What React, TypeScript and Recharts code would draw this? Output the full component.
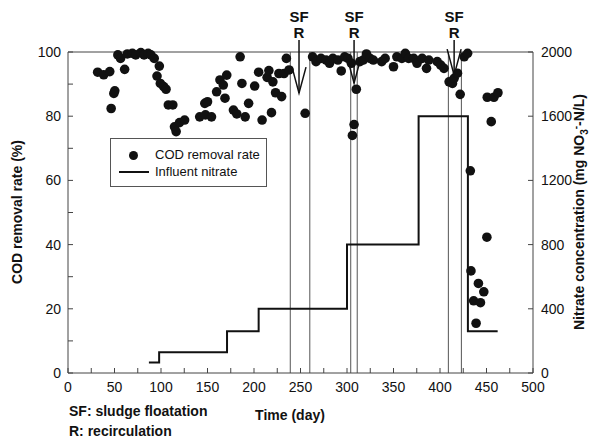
import React from "react";
import {
  ComposedChart,
  Scatter,
  Line,
  XAxis,
  YAxis,
  ReferenceLine,
  ReferenceDot,
} from "recharts";

// COD removal rate (%) by day
const codDays = [
  31.9, 38.4, 44.9, 46.4, 49.3, 50.3, 53.6, 56.5, 60.9, 63.8, 69.2, 72.8, 78.3, 81.8, 86.2, 89.1,
  92.7, 95.7, 98.2, 99.3, 102.9, 105.4, 107.9, 112.7, 114.5, 116.3, 119.9, 125.4, 141.6, 147.1,
  147.8, 150.0, 154.3, 159.8, 163.4, 167.0, 168.8, 170.7, 177.9, 181.5, 185.1, 187.0, 190.5,
  194.2, 200.7, 205.0, 208.7, 214.1, 216.0, 218.8, 220.3, 223.2, 226.8, 229.7, 232.3, 234.8,
  237.7, 255.0, 263.0, 266.7, 272.0, 277.5, 281.2, 284.8, 290.2, 293.8, 297.5, 301.0, 304.7,
  305.8, 307.6, 310.0, 313.8, 317.4, 320.9, 324.7, 328.3, 337.3, 341.0, 350.0, 353.6, 359.0,
  362.7, 366.3, 371.7, 375.3, 380.8, 385.5, 388.0, 397.0, 400.8, 404.3, 409.8, 413.4, 415.2,
  418.8, 421.7, 426.0, 429.7, 432.6, 433.3, 436.2, 438.8, 441.3, 443.5, 447.1, 450.4, 450.8,
  455.1, 458.0, 462.3,
];
const codRates = [
  93.7, 92.9, 93.9, 82.4, 87.1, 87.9, 99.1, 98.0, 94.6, 99.4, 99.6, 99.1, 99.8, 99.1, 99.6, 99.1,
  98.0, 92.5, 95.6, 90.2, 89.2, 88.4, 83.5, 83.5, 76.7, 75.2, 78.0, 78.8, 79.8, 84.0,
  80.4, 84.5, 79.8, 87.6, 91.3, 89.7, 85.6, 92.8, 81.9, 80.7, 98.5, 90.2, 79.8,
  84.0, 89.4, 93.7, 78.8, 92.1, 94.2, 81.1, 90.7, 87.3, 93.3, 86.1, 93.3, 98.0,
  94.4, 80.9, 98.5, 97.0, 98.0, 97.5, 96.5, 98.0, 97.5, 94.1, 98.5, 98.0, 96.5,
  74.0, 77.4, 88.4, 97.0, 97.5, 99.4, 98.0, 97.5, 97.0, 98.0, 95.4, 98.5, 98.0,
  99.6, 98.0, 98.0, 96.5, 98.0, 94.9, 97.5, 97.0, 95.9, 94.9, 90.7, 90.2, 91.8,
  93.4, 86.8, 98.5, 99.6, 63.0, 31.8, 22.5, 15.5, 27.9, 21.9, 25.3, 42.3, 85.9,
  78.3, 85.9, 87.3,
];

// influent nitrate (mg NO3-N/L), value holds from each day to the next
const nitrateDays = [87, 98, 171, 205, 300, 377, 430, 462];
const nitrateLevels = [65, 130, 260, 400, 800, 1600, 260, 260];

// sludge floatation / recirculation events
const eventDays = [239, 260, 304, 311, 409, 423];
const arrowDays = [248.4, 307.6, 415.2];
const arrowTips = [87.2, 90.3, 92.8];

const xTicks = [0, 25, 50, 75, 100, 125, 150, 175, 200, 225, 250, 275, 300, 325, 350, 375, 400, 425, 450, 475, 500];
const leftTicks = [0, 10, 20, 30, 40, 50, 60, 70, 80, 90, 100];
const rightTicks = [0, 400, 800, 1200, 1600, 2000];

const codData = codDays.map((d, i) => ({ day: d, rate: codRates[i] }));
const nitrateData = nitrateDays.map((d, i) => ({ day: d, nitrate: nitrateLevels[i] }));

const FONT = "'Liberation Sans', Arial, sans-serif";
const AXIS = "#444";
const INK = "#111";

function BottomTick({ x, y, payload }: any) {
  const major = payload.value % 50 === 0;
  return (
    <g>
      <line x1={x} x2={x} y1={y} y2={y - 5} stroke={AXIS} />
      {major && (
        <text x={x} y={y + 19} textAnchor="middle" fontSize={14} fill={INK} fontFamily={FONT}>
          {payload.value}
        </text>
      )}
    </g>
  );
}

function LeftTick({ x, y, payload }: any) {
  const major = payload.value % 20 === 0;
  return (
    <g>
      <line x1={x} x2={x + 5} y1={y} y2={y} stroke={AXIS} />
      {major && (
        <text x={x - 7} y={y + 5} textAnchor="end" fontSize={14} fill={INK} fontFamily={FONT}>
          {payload.value}
        </text>
      )}
    </g>
  );
}

function RightTick({ x, y, payload }: any) {
  return (
    <g>
      <line x1={x} x2={x - 5} y1={y} y2={y} stroke={AXIS} />
      <text x={x + 8} y={y + 5} textAnchor="start" fontSize={14} fill={INK} fontFamily={FONT}>
        {payload.value}
      </text>
    </g>
  );
}

function LeftTitle() {
  return (
    <text x={22} y={212} transform="rotate(-90 22 212)" textAnchor="middle" fontSize={14}
      fontWeight="bold" fill={INK} fontFamily={FONT}>
      COD removal rate (%)
    </text>
  );
}

function RightTitle() {
  return (
    <text x={584} y={212} transform="rotate(-90 584 212)" textAnchor="middle" fontSize={14}
      fontWeight="bold" fill={INK} fontFamily={FONT}>
      Nitrate concentration (mg NO
      <tspan fontSize={10} dy={4}>3</tspan>
      <tspan fontSize={10} dy={-9}>-</tspan>
      <tspan dy={5}>-N/L)</tspan>
    </text>
  );
}

function BottomTexts() {
  return (
    <g fontFamily={FONT} fontWeight="bold" fontSize={14} fill={INK}>
      <text x={290} y={420} textAnchor="middle">Time (day)</text>
      <text x={69} y={416}>SF: sludge floatation</text>
      <text x={69} y={436}>R: recirculation</text>
    </g>
  );
}

function EventArrow({ cx, cy }: any) {
  return (
    <g>
      <text x={cx} y={22} textAnchor="middle" fontSize={15} fontWeight="bold" fill={INK} fontFamily={FONT}>SF</text>
      <text x={cx} y={38} textAnchor="middle" fontSize={15} fontWeight="bold" fill={INK} fontFamily={FONT}>R</text>
      <line x1={cx} x2={cx} y1={40} y2={cy} stroke={INK} strokeWidth={1.5} />
      <polyline points={`${cx - 7},${cy - 26} ${cx},${cy} ${cx + 7},${cy - 26}`} fill="none" stroke={INK} strokeWidth={1.5} />
    </g>
  );
}

export default function App() {
  return (
    <div style={{ position: "absolute", left: 0, top: 0, width: 595, height: 439, background: "#fff" }}>
      <ComposedChart width={595} height={439} margin={{ top: 52, right: 0, bottom: 0, left: 0 }}>
        <XAxis
          dataKey="day"
          type="number"
          domain={[0, 500]}
          ticks={xTicks}
          interval={0}
          height={66}
          tickSize={0}
          tickMargin={0}
          tickLine={false}
          axisLine={{ stroke: AXIS }}
          tick={<BottomTick />}
          label={<BottomTexts />}
          allowDataOverflow
        />
        <YAxis
          yAxisId="left"
          type="number"
          domain={[0, 100]}
          ticks={leftTicks}
          interval={0}
          width={68}
          tickSize={0}
          tickMargin={0}
          tickLine={false}
          axisLine={{ stroke: AXIS }}
          tick={<LeftTick />}
          label={<LeftTitle />}
        />
        <YAxis
          yAxisId="right"
          orientation="right"
          type="number"
          domain={[0, 2000]}
          ticks={rightTicks}
          interval={0}
          width={62}
          tickSize={0}
          tickMargin={0}
          tickLine={false}
          axisLine={{ stroke: AXIS }}
          tick={<RightTick />}
          label={<RightTitle />}
        />
        <ReferenceLine yAxisId="left" y={100} stroke={AXIS} />
        {eventDays.map((d) => (
          <ReferenceLine key={d} yAxisId="left" x={d} stroke="#555" strokeWidth={1} />
        ))}
        <Line
          yAxisId="right"
          data={nitrateData}
          dataKey="nitrate"
          type="stepAfter"
          stroke={INK}
          strokeWidth={2}
          dot={false}
          isAnimationActive={false}
        />
        <Scatter
          yAxisId="left"
          data={codData}
          dataKey="rate"
          fill={INK}
          shape={(p: any) => <circle cx={p.cx} cy={p.cy} r={4.8} fill={INK} />}
          isAnimationActive={false}
        />
        {arrowDays.map((d, i) => (
          <ReferenceDot key={d} yAxisId="left" x={d} y={arrowTips[i]} shape={(p: any) => <EventArrow {...p} />} />
        ))}
      </ComposedChart>
      <div
        style={{
          position: "absolute",
          left: 110,
          top: 138,
          width: 157,
          height: 49,
          border: "1px solid #555",
          background: "#fff",
          fontFamily: FONT,
          fontSize: 13,
          color: INK,
          boxSizing: "border-box",
          whiteSpace: "nowrap",
        }}
      >
        <div style={{ position: "absolute", left: 18, top: 12, width: 9, height: 9, borderRadius: "50%", background: INK }} />
        <div style={{ position: "absolute", left: 44, top: 8, lineHeight: "15px" }}>COD removal rate</div>
        <div style={{ position: "absolute", left: 8, top: 32, width: 30, height: 2, background: INK }} />
        <div style={{ position: "absolute", left: 44, top: 25, lineHeight: "15px" }}>Influent nitrate</div>
      </div>
    </div>
  );
}
